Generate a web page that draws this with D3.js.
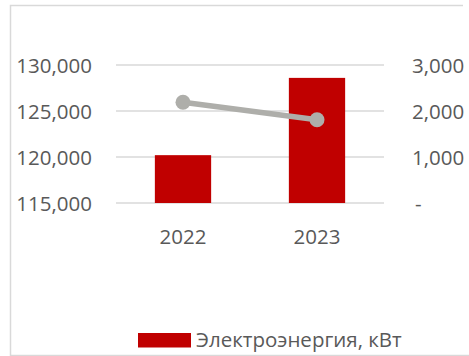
<!DOCTYPE html>
<html>
<head>
<meta charset="utf-8">
<script src="https://cdn.jsdelivr.net/npm/d3@7"></script>
<style>
  html, body { margin: 0; padding: 0; background: #fff; }
  svg { display: block; }
  text { font-family: "Open Sans", "Noto Sans", sans-serif; fill: #595959; }
</style>
</head>
<body>
<svg id="chart" width="469" height="356"></svg>
<script>
// Years on the category axis
const years = ["2022", "2023"];
// Electricity consumption, kWh (bars, left axis)
const electricity = [120200, 128600];
// Secondary indicator (line, right axis)
const secondary = [2190, 1810];
// Axis ticks
const leftTicks = [115000, 120000, 125000, 130000];
const rightTicks = [0, 1000, 2000, 3000];
const legendLabel = "Электроэнергия, кВт";

const svg = d3.select("#chart");
const W = 469, H = 356;

// Frame: top, left and bottom edges
svg.append("path")
  .attr("d", "M463,5.5 H10.5 V355.5 H469")
  .attr("fill", "none")
  .attr("stroke", "#D9D9D9")
  .attr("stroke-width", 1.5);

const plot = { left: 116, right: 384, top: 65, bottom: 203 };

const x = d3.scaleBand()
  .domain(years)
  .range([plot.left, plot.right])
  .paddingInner(0.58)
  .paddingOuter(0.29);

const yL = d3.scaleLinear().domain([115000, 130000]).range([plot.bottom, plot.top]);
const yR = d3.scaleLinear().domain([0, 3000]).range([plot.bottom, plot.top]);

// Gridlines
svg.append("g")
  .selectAll("line")
  .data(leftTicks)
  .join("line")
  .attr("x1", plot.left)
  .attr("x2", plot.right)
  .attr("y1", d => yL(d))
  .attr("y2", d => yL(d))
  .attr("stroke", "#D9D9D9")
  .attr("stroke-width", 1.5);

// Bars
svg.append("g")
  .selectAll("rect")
  .data(years.map((y, i) => ({ year: y, v: electricity[i] })))
  .join("rect")
  .attr("x", d => x(d.year))
  .attr("width", x.bandwidth())
  .attr("y", d => yL(d.v))
  .attr("height", d => yL(115000) - yL(d.v))
  .attr("fill", "#C00000");

// Line series with markers
const pts = years.map((y, i) => ({ year: y, v: secondary[i] }));
const line = d3.line()
  .x(d => x(d.year) + x.bandwidth() / 2)
  .y(d => yR(d.v));
svg.append("path")
  .datum(pts)
  .attr("d", line)
  .attr("fill", "none")
  .attr("stroke", "#AEAEAA")
  .attr("stroke-width", 5.5)
  .attr("stroke-linecap", "round");
svg.append("g")
  .selectAll("circle")
  .data(pts)
  .join("circle")
  .attr("cx", d => x(d.year) + x.bandwidth() / 2)
  .attr("cy", d => yR(d.v))
  .attr("r", 7.5)
  .attr("fill", "#AEAEAA");

// Left axis labels
const fmt = d3.format(",");
const leftAxis = d3.axisLeft(yL).tickValues(leftTicks).tickFormat(fmt).tickSize(0).tickPadding(0);
const gL = svg.append("g").attr("transform", "translate(92,0)").call(leftAxis);
gL.select(".domain").remove();
gL.selectAll("text")
  .attr("font-size", 20.5)
  .attr("font-family", null)
  .attr("fill", "#595959")
  .attr("dy", "0.35em");

// Right axis labels (zero shown as a dash)
const rightAxis = d3.axisRight(yR).tickValues(rightTicks)
  .tickFormat(d => d === 0 ? "-" : fmt(d)).tickSize(0).tickPadding(0);
const gR = svg.append("g").attr("transform", "translate(412,0)").call(rightAxis);
gR.select(".domain").remove();
gR.selectAll("text")
  .attr("font-size", 20.5)
  .attr("font-family", null)
  .attr("fill", "#595959")
  .attr("dy", "0.35em");
gR.selectAll(".tick").filter(d => d === 0).select("text").attr("x", 3);

// Category axis labels
const bottomAxis = d3.axisBottom(x).tickSize(0).tickPadding(0);
const gB = svg.append("g").attr("transform", "translate(0,237)").call(bottomAxis);
gB.select(".domain").remove();
gB.selectAll("text")
  .attr("font-size", 20.5)
  .attr("font-family", null)
  .attr("fill", "#595959")
  .attr("y", 0)
  .attr("dy", "0.35em");

// Legend
const lg = svg.append("g");
lg.append("rect")
  .attr("x", 138).attr("y", 333)
  .attr("width", 53).attr("height", 14.5)
  .attr("fill", "#C00000");
lg.append("text")
  .attr("x", 196).attr("y", 340)
  .attr("dy", "0.35em")
  .attr("font-size", 20.5)
  .text(legendLabel);
</script>
</body>
</html>
